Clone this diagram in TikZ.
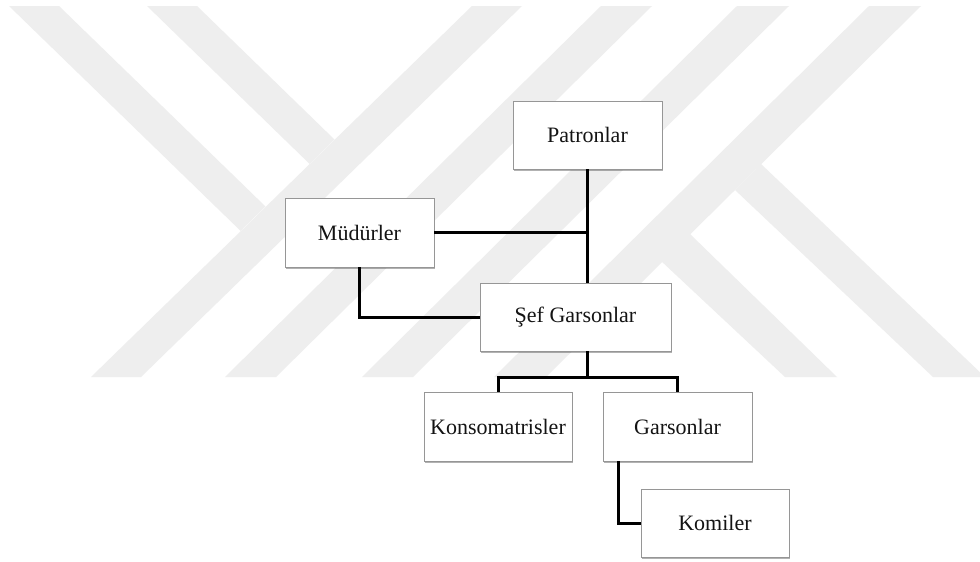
\documentclass[tikz,border=0pt]{standalone}
\usepackage{fontspec}
\setmainfont{Liberation Serif}
\usetikzlibrary{shadows}
\definecolor{wm}{RGB}{238,238,238}
\definecolor{boxline}{RGB}{150,150,150}
\definecolor{txt}{RGB}{20,20,20}
\tikzset{
  orgbox/.style={draw=boxline, line width=0.8pt, fill=white, inner sep=0pt,
    minimum width=149pt, minimum height=68pt, text=txt,
    font=\fontsize{22pt}{25pt}\selectfont,
    drop shadow={shadow xshift=1.2pt, shadow yshift=-1.5pt, fill=black, opacity=0.3}},
  conn/.style={draw=black, line width=3pt, line join=miter},
  wmark/.style={fill=wm, draw=none}
}
\begin{document}
\begin{tikzpicture}[x=1pt, y=-1pt]
\useasboundingbox (0,0) rectangle (980,562);
\fill[white] (0,0) rectangle (980,562);
\begin{scope}
\clip (0,0) rectangle (980,562);
% watermark stripes
\path[wmark] (9,6) -- (59,6) -- (265.5,206.5) -- (240.5,230.8) -- cycle;
\path[wmark] (147,6) -- (197,6) -- (334.5,139.5) -- (309.5,163.8) -- cycle;
\path[wmark] (472,6) -- (522,6) -- (141,377) -- (91,377) -- cycle;
\path[wmark] (601,6) -- (652,6) -- (276,377) -- (225,377) -- cycle;
\path[wmark] (737,6) -- (789,6) -- (413,377) -- (362,377) -- cycle;
\path[wmark] (869,6) -- (921,6) -- (546,377) -- (494,377) -- cycle;
\path[wmark] (690,234) -- (837,377) -- (785,377) -- (660,260) -- cycle;
\path[wmark] (761,164) -- (985,377) -- (933,377) -- (735,190) -- cycle;
\end{scope}

\node[orgbox] (pat) at (587.5,135) {Patronlar};
\node[orgbox, minimum height=69pt] (mud) at (359.5,232.5) {Müdürler};
\node[orgbox, minimum width=191pt] (sef) at (575.5,317) {Şef Garsonlar};
\node[orgbox, minimum width=148pt, minimum height=69pt] (kon) at (498,426.5) {Konsomatrisler};
\node[orgbox, minimum height=69pt] (gar) at (677.5,426.5) {Garsonlar};
\node[orgbox, minimum width=148pt] (kom) at (715,523) {Komiler};

\draw[conn] (pat.south) -- (pat.south |- sef.north);
\coordinate (j1) at (pat.south |- mud.east);
\draw[conn] (mud.east) -- (j1);
\draw[conn] (mud.south) |- (sef.west);
\coordinate (bar) at (587,377);
\draw[conn] (bar |- sef.south) -- (bar);
\draw[conn] (kon.north) |- (bar) -| (gar.north);
\coordinate (gk) at (618,461);
\draw[conn] (gk |- gar.south) |- (kom.west);
\end{tikzpicture}
\end{document}
